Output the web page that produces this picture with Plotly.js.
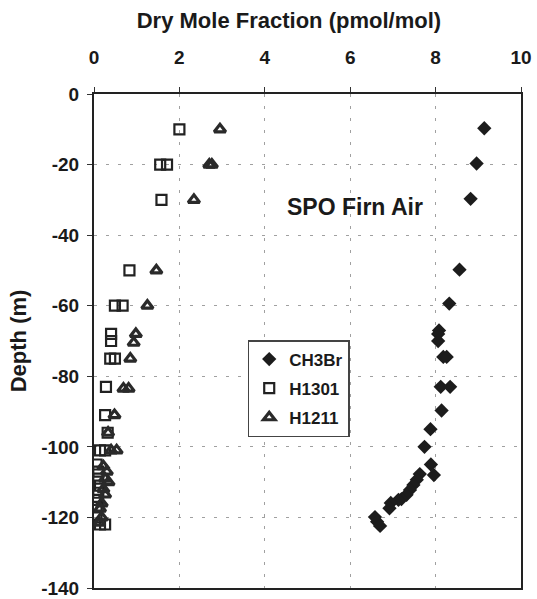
<!DOCTYPE html>
<html>
<head>
<meta charset="utf-8">
<script src="https://cdn.plot.ly/plotly-3.0.1.min.js"></script>
<style>html,body{margin:0;padding:0;background:#fff;}#chart{width:537px;height:599px;}</style>
</head>
<body>
<div id="chart"></div>
<script>
// CH3Br (diamonds)
var ch3brX = [9.14, 8.96, 8.82, 8.56, 8.32, 8.08, 8.06, 8.06, 8.18, 8.26, 8.12, 8.34, 8.14, 7.88, 7.74, 7.89, 7.96, 7.63, 7.56, 7.48, 7.40, 7.32, 7.20, 7.13, 6.95, 6.92, 6.58, 6.63, 6.70];
var ch3brY = [-9.7, -19.7, -29.7, -49.8, -59.4, -67, -68, -70, -74.5, -74.5, -83, -83, -89.7, -95, -100, -105, -108, -107.7, -109.3, -110.8, -112.2, -113.6, -114.8, -115, -115.9, -117.4, -119.9, -121.2, -122.4];
// H1301 (open squares)
var h1301X = [2.00, 1.55, 1.71, 1.58, 0.83, 0.49, 0.67, 0.40, 0.40, 0.38, 0.49, 0.28, 0.26, 0.32, 0.14, 0.26, 0.06, 0.10, 0.10, 0.14, 0.10, 0.09, 0.06, 0.06, 0.14, 0.26];
var h1301Y = [-10, -20, -20, -30, -50, -60, -60, -68, -70, -75, -75, -83, -91, -96, -101, -101, -105, -107, -109, -111, -113, -115, -117, -120, -122, -122];
// H1211 (triangles)
var h1211X = [2.95, 2.70, 2.76, 2.34, 1.46, 1.25, 0.98, 0.93, 0.85, 0.69, 0.81, 0.48, 0.33, 0.40, 0.53, 0.22, 0.30, 0.26, 0.34, 0.22, 0.26, 0.18, 0.14, 0.18, 0.12];
var h1211Y = [-10, -20, -20, -30, -50, -60, -68, -70.5, -75, -83.5, -83.5, -91, -96, -101, -101, -105.5, -107, -109, -110, -112, -113.5, -116, -117.5, -120, -121.5];

var xTicks = [0, 2, 4, 6, 8, 10];
var yTicks = [0, -20, -40, -60, -80, -100, -120, -140];

var FONT = "Liberation Sans, Arial, sans-serif";

var traces = [
  {x: ch3brX, y: ch3brY, name: "CH3Br", mode: "markers", type: "scatter", legendgroup: "a",
   marker: {symbol: "diamond", size: 11, color: "#1c1c1c"}},
  {x: h1301X, y: h1301Y, name: "H1301", mode: "markers", type: "scatter", legendgroup: "b",
   marker: {symbol: "square-open", size: 10, color: "#222", line: {width: 2.2, color: "#222"}}},
  {x: h1211X, y: h1211Y, name: "H1211", mode: "markers", type: "scatter", legendgroup: "c",
   marker: {symbol: "triangle-up-open", size: 10, color: "#2a2a2a", line: {width: 3.2, color: "#2a2a2a"}}}
];

var layout = {
  width: 537, height: 599,
  margin: {l: 94, r: 16, t: 94, b: 11},
  paper_bgcolor: "#fff", plot_bgcolor: "#fff",
  font: {family: FONT, color: "#1a1a1a", weight: 700},
  showlegend: true,
  title: {text: "Dry Mole Fraction (pmol/mol)", font: {size: 22, family: FONT, color: "#1a1a1a", weight: 700},
          xref: "container", yref: "container", x: 0.538, y: 0.966, xanchor: "center", yanchor: "middle"},
  xaxis: {
    side: "top", range: [0, 10], tickvals: xTicks, ticktext: xTicks.map(String),
    tickfont: {size: 19, family: FONT, color: "#1a1a1a", weight: 700}, ticks: "outside", ticklen: 5, tickcolor: "#333",
    ticklabelstandoff: 15,
    showline: true, linecolor: "#222", linewidth: 2, mirror: true,
    showgrid: true, gridcolor: "#a0a0a0", gridwidth: 1, griddash: "3px,9px",
    zeroline: false, fixedrange: true
  },
  yaxis: {
    range: [-140, 0], tickvals: yTicks, ticktext: yTicks.map(String),
    tickfont: {size: 19, family: FONT, color: "#1a1a1a", weight: 700}, ticks: "outside", ticklen: 5, tickcolor: "#333",
    ticklabelstandoff: 4,
    showline: true, linecolor: "#222", linewidth: 2, mirror: true,
    showgrid: true, gridcolor: "#a0a0a0", gridwidth: 1, griddash: "3px,9px",
    zeroline: false, fixedrange: true,
    title: {text: "Depth (m)", font: {size: 22, family: FONT, color: "#1a1a1a", weight: 700}, standoff: 8}
  },
  legend: {
    x: 0.36, y: 0.502, xanchor: "left", yanchor: "top",
    bgcolor: "#fff", bordercolor: "#444", borderwidth: 1.5,
    font: {size: 17, family: FONT, color: "#1a1a1a", weight: 700},
    tracegroupgap: 4, itemwidth: 30
  },
  annotations: [
    {x: 6.11, y: -32, xref: "x", yref: "y", text: "SPO Firn Air", showarrow: false,
     font: {size: 23, family: FONT, color: "#1a1a1a", weight: 700}, xanchor: "center", yanchor: "middle"}
  ]
};

Plotly.newPlot("chart", traces, layout, {staticPlot: true, displayModeBar: false});
</script>
</body>
</html>
